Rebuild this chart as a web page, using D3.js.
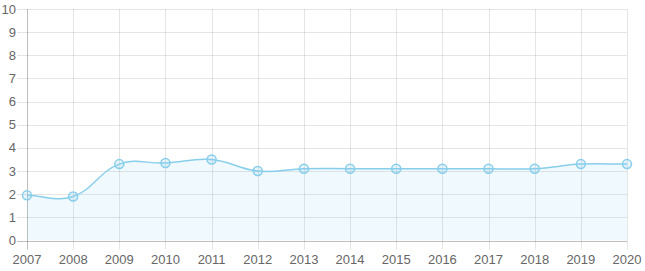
<!DOCTYPE html>
<html><head><meta charset="utf-8">
<script src="https://cdn.jsdelivr.net/npm/d3@7"></script>
<style>body{margin:0;background:#fff}svg{display:block}</style>
</head><body>
<svg id="c" width="645" height="271"></svg>
<script>
const years = ["2007","2008","2009","2010","2011","2012","2013","2014","2015","2016","2017","2018","2019","2020"];
const values = [1.95,1.9,3.3,3.35,3.5,3.0,3.1,3.1,3.1,3.1,3.1,3.1,3.3,3.3];
const yTicks = [0,1,2,3,4,5,6,7,8,9,10];

const svg = d3.select("#c");
const L = 27, R = 627, T = 9, B = 240.5;
const x = d3.scalePoint().domain(years).range([L, R]);
const y = d3.scaleLinear().domain([0, 10]).range([B, T]);
const font = "Liberation Sans, Arial, Helvetica, sans-serif";
const lineColor = "rgb(135,206,235)";
const fs = 13;

// horizontal grid
const gy = svg.append("g");
yTicks.forEach(t => {
  gy.append("line").attr("x1", L - 10).attr("x2", R)
    .attr("y1", Math.round(y(t)) + 0.5).attr("y2", Math.round(y(t)) + 0.5)
    .attr("stroke", t === 0 ? "rgba(0,0,0,0.25)" : "rgba(0,0,0,0.1)").attr("stroke-width", 1);
  gy.append("text").attr("x", L - 11).attr("y", y(t)).attr("dy", "0.35em")
    .attr("text-anchor", "end").attr("font-family", font).attr("font-size", fs)
    .attr("fill", "#666").text(t);
});
// vertical grid
const gx = svg.append("g");
years.forEach((yr, i) => {
  gx.append("line").attr("x1", Math.round(x(yr)) + 0.5).attr("x2", Math.round(x(yr)) + 0.5)
    .attr("y1", T).attr("y2", B + 9)
    .attr("stroke", i === 0 ? "rgba(0,0,0,0.25)" : "rgba(0,0,0,0.1)").attr("stroke-width", 1);
  gx.append("text").attr("x", x(yr)).attr("y", B + 23)
    .attr("text-anchor", "middle").attr("font-family", font).attr("font-size", fs)
    .attr("fill", "#666").text(yr);
});

// Chart.js-style spline (tension 0.4)
const pts = years.map((yr, i) => ({x: x(yr), y: y(values[i])}));
const t = 0.4;
pts.forEach((p, i) => {
  const prev = pts[Math.max(0, i - 1)], next = pts[Math.min(pts.length - 1, i + 1)];
  const d01 = Math.hypot(p.x - prev.x, p.y - prev.y);
  const d12 = Math.hypot(next.x - p.x, next.y - p.y);
  let s01 = d01 / (d01 + d12), s12 = d12 / (d01 + d12);
  if (!isFinite(s01)) s01 = 0; if (!isFinite(s12)) s12 = 0;
  const fa = t * s01, fb = t * s12;
  p.cpx1 = p.x - fa * (next.x - prev.x); p.cpy1 = p.y - fa * (next.y - prev.y);
  p.cpx2 = p.x + fb * (next.x - prev.x); p.cpy2 = p.y + fb * (next.y - prev.y);
  p.cpy1 = Math.max(T, Math.min(B, p.cpy1)); p.cpy2 = Math.max(T, Math.min(B, p.cpy2));
});
function linePath() {
  const p = d3.path();
  p.moveTo(pts[0].x, pts[0].y);
  for (let i = 1; i < pts.length; i++) {
    const a = pts[i - 1], b = pts[i];
    p.bezierCurveTo(a.cpx2, a.cpy2, b.cpx1, b.cpy1, b.x, b.y);
  }
  return p;
}
const lp = linePath().toString();
svg.append("path").attr("d", lp + `L${pts[pts.length-1].x},${B}L${pts[0].x},${B}Z`)
  .attr("fill", "rgba(135,206,235,0.12)");
svg.append("path").attr("d", lp).attr("fill", "none").attr("stroke", lineColor).attr("stroke-width", 1.5);

svg.append("g").selectAll("circle").data(values).join("circle")
  .attr("cx", (d, i) => x(years[i])).attr("cy", d => y(d)).attr("r", 4.5)
  .attr("fill", "rgba(135,206,235,0.2)").attr("stroke", lineColor).attr("stroke-width", 1.5);
</script>
</body></html>
